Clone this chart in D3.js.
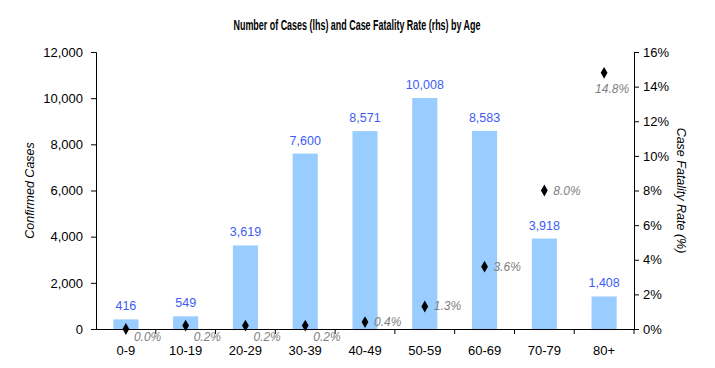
<!DOCTYPE html>
<html>
<head>
<meta charset="utf-8">
<script src="https://cdn.jsdelivr.net/npm/d3@7"></script>
<style>
  body { margin: 0; background: #fff; }
  svg { display: block; }
  text { font-family: "Liberation Sans", Arial, sans-serif; }
</style>
</head>
<body>
<svg id="chart" width="715" height="368"></svg>
<script>
const categories = ["0-9", "10-19", "20-29", "30-39", "40-49", "50-59", "60-69", "70-79", "80+"];
const cases = [416, 549, 3619, 7600, 8571, 10008, 8583, 3918, 1408];
const fatalityRate = [0.0, 0.2, 0.2, 0.2, 0.4, 1.3, 3.6, 8.0, 14.8];
const leftTicks = [0, 2000, 4000, 6000, 8000, 10000, 12000];
const rightTicks = [0, 2, 4, 6, 8, 10, 12, 14, 16];

const svg = d3.select("#chart");
const m = { left: 96, right: 634, top: 52, bottom: 329 };

const x = d3.scaleBand().domain(categories).range([m.left, m.right]).paddingInner(0.58).paddingOuter(0.29);
const xOuter = d3.scaleBand().domain(categories).range([m.left, m.right]);
const yL = d3.scaleLinear().domain([0, 12000]).range([m.bottom, m.top]);
const yR = d3.scaleLinear().domain([0, 16]).range([m.bottom, m.top]);

// title
svg.append("text").attr("x", 357).attr("y", 30).attr("text-anchor", "middle")
  .attr("font-family", "'Liberation Sans Narrow', 'Liberation Sans', Arial, sans-serif")
  .attr("font-size", 14).attr("font-weight", "bold").attr("fill", "#000")
  .attr("textLength", 247).attr("lengthAdjust", "spacingAndGlyphs")
  .text("Number of Cases (lhs) and Case Fatality Rate (rhs) by Age");

// bars
svg.append("g").selectAll("rect").data(categories).join("rect")
  .attr("x", d => x(d)).attr("width", x.bandwidth())
  .attr("y", (d, i) => yL(cases[i])).attr("height", (d, i) => m.bottom - yL(cases[i]))
  .attr("fill", "#99ccff");

// bar labels
svg.append("g").selectAll("text").data(categories).join("text")
  .attr("x", d => x(d) + x.bandwidth() / 2)
  .attr("y", (d, i) => yL(cases[i]) - 9)
  .attr("text-anchor", "middle").attr("font-size", 12.5).attr("fill", "#3d5cf5")
  .text((d, i) => d3.format(",")(cases[i]));

// left axis
const axL = svg.append("g").attr("transform", `translate(${m.left},0)`)
  .call(d3.axisLeft(yL).tickValues(leftTicks).tickFormat(d3.format(",")).tickSize(5).tickPadding(8));
// right axis
const axR = svg.append("g").attr("transform", `translate(${m.right},0)`)
  .call(d3.axisRight(yR).tickValues(rightTicks).tickFormat(d => d + "%").tickSize(5).tickPadding(4));
// bottom axis with ticks at band boundaries
const axB = svg.append("g").attr("transform", `translate(0,${m.bottom})`)
  .call(d3.axisBottom(xOuter).tickSize(0).tickPadding(17));
axB.selectAll(".tick text").attr("dy", "0.71em");
svg.append("g").selectAll("line").data(categories.slice(1).concat(["__end"])).join("line")
  .attr("x1", d => d === "__end" ? m.right : xOuter(d)).attr("x2", d => d === "__end" ? m.right : xOuter(d))
  .attr("y1", m.bottom).attr("y2", m.bottom + 5).attr("stroke", "#000");

[axL, axR, axB].forEach(a => {
  a.selectAll("path.domain").attr("stroke", "#000").attr("stroke-width", 1);
  a.selectAll(".tick line").attr("stroke", "#000");
  a.selectAll(".tick text").attr("font-size", 13).attr("fill", "#000")
    .attr("font-family", "'Liberation Sans', Arial, sans-serif");
});
axB.select("path.domain").attr("d", `M${m.left},0.5H${m.right}`);

// axis titles
svg.append("text").attr("transform", `translate(34,${(m.top + m.bottom) / 2}) rotate(-90)`)
  .attr("text-anchor", "middle").attr("font-size", 12.5).attr("font-style", "italic").attr("fill", "#000")
  .text("Confirmed Cases");
svg.append("text").attr("transform", `translate(677,${(m.top + m.bottom) / 2}) rotate(90)`)
  .attr("text-anchor", "middle").attr("font-size", 12.5).attr("font-style", "italic").attr("fill", "#000")
  .text("Case Fatality Rate (%)");

// diamonds
const diamond = d3.symbol().type(d3.symbolDiamond).size(40);
svg.append("g").selectAll("path").data(categories).join("path")
  .attr("d", diamond)
  .attr("transform", (d, i) => `translate(${xOuter(d) + xOuter.bandwidth() / 2},${yR(fatalityRate[i])})`)
  .attr("fill", "#000");

// CFR labels
svg.append("g").selectAll("text").data(categories).join("text")
  .attr("x", (d, i) => {
    const cx = xOuter(d) + xOuter.bandwidth() / 2;
    if (i < 4) return cx + 8;
    if (fatalityRate[i] > 10) return cx - 9;
    return cx + 9;
  })
  .attr("y", (d, i) => {
    if (i < 4) return 341;
    if (fatalityRate[i] > 10) return yR(fatalityRate[i]) + 20;
    return yR(fatalityRate[i]) + 4;
  })
  .attr("font-size", 12).attr("font-style", "italic").attr("fill", "#808080")
  .text((d, i) => fatalityRate[i].toFixed(1) + "%");
</script>
</body>
</html>
